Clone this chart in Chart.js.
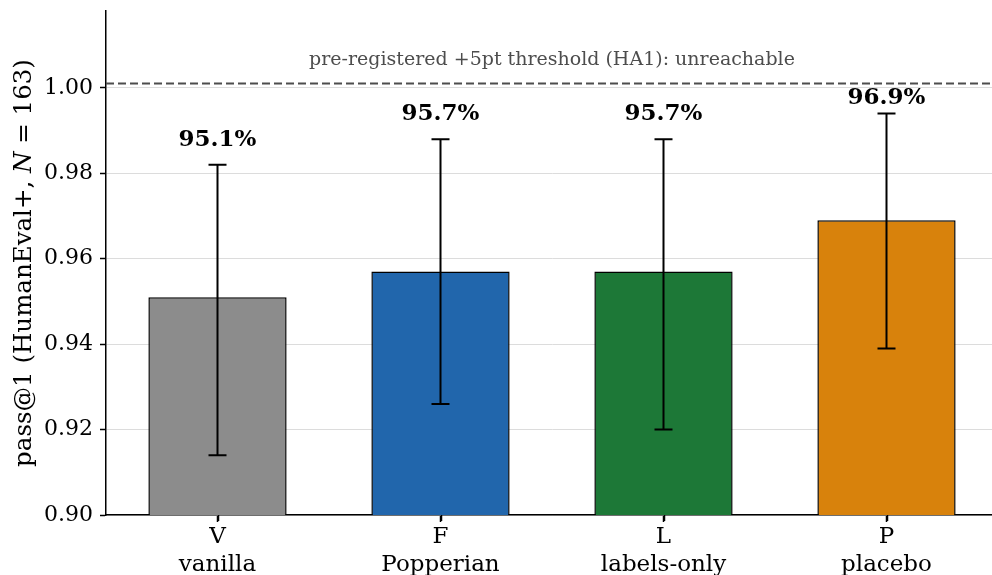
<!DOCTYPE html>
<html>
<head>
<meta charset="utf-8">
<script src="https://cdn.jsdelivr.net/npm/chart.js@4.4.1/dist/chart.umd.min.js"></script>
<style>
  html, body { margin: 0; padding: 0; background: #fff; overflow: hidden; }
  #wrap { position: absolute; left: 0; top: 0; width: 1010px; height: 600px; }
</style>
</head>
<body>
<div id="wrap"><canvas id="c" width="1010" height="600"></canvas></div>
<script>
// ---- data ----
const codes = ['V', 'F', 'L', 'P'];
const names = ['vanilla', 'Popperian', 'labels-only', 'placebo'];
const pass1 = [0.951, 0.957, 0.957, 0.969];
const ciLow = [0.914, 0.926, 0.920, 0.939];
const ciHigh = [0.982, 0.988, 0.988, 0.994];
const barColors = ['#8c8c8c', '#2166ac', '#1d7837', '#d8820c'];
const threshold = 1.001;
const thresholdText = 'pre-registered +5pt threshold (HA1): unreachable';
const yTicks = [0.90, 0.92, 0.94, 0.96, 0.98, 1.00];

const FONT = "'DejaVu Serif', serif";

const overlay = {
  id: 'overlay',
  afterDatasetsDraw(chart) {
    const ctx = chart.ctx;
    const ys = chart.scales.y;
    const meta = chart.getDatasetMeta(0);
    const area = chart.chartArea;
    ctx.save();
    // x tick marks at category centres
    ctx.strokeStyle = '#000';
    ctx.lineWidth = 1.5;
    meta.data.forEach(bar => {
      const x = Math.round(bar.x) + 0.5;
      ctx.beginPath();
      ctx.moveTo(x, area.bottom); ctx.lineTo(x, area.bottom + 6);
      ctx.stroke();
    });
    // error bars
    ctx.lineWidth = 2;
    meta.data.forEach((bar, i) => {
      const x = bar.x;
      const yl = ys.getPixelForValue(ciLow[i]);
      const yh = ys.getPixelForValue(ciHigh[i]);
      ctx.beginPath();
      ctx.moveTo(x, yl); ctx.lineTo(x, yh);
      ctx.moveTo(x - 9, yl); ctx.lineTo(x + 9, yl);
      ctx.moveTo(x - 9, yh); ctx.lineTo(x + 9, yh);
      ctx.stroke();
    });
    // value labels
    ctx.fillStyle = '#000';
    ctx.font = "bold 23px " + FONT;
    ctx.textAlign = 'center';
    ctx.textBaseline = 'alphabetic';
    meta.data.forEach((bar, i) => {
      const v = Math.min(ciHigh[i] + 0.0045, 0.9962);
      ctx.fillText((pass1[i] * 100).toFixed(1) + '%', bar.x, ys.getPixelForValue(v));
    });
    // threshold dashed line
    const ty = ys.getPixelForValue(threshold);
    ctx.strokeStyle = '#4d4d4d';
    ctx.lineWidth = 2;
    ctx.setLineDash([8, 4]);
    ctx.beginPath();
    ctx.moveTo(area.left, ty); ctx.lineTo(area.right, ty);
    ctx.stroke();
    ctx.setLineDash([]);
    // threshold annotation
    ctx.fillStyle = '#4d4d4d';
    ctx.font = "19px " + FONT;
    ctx.fillText(thresholdText, (area.left + area.right) / 2, 65);
    // y-axis title with italic N
    const cy = (area.top + area.bottom) / 2;
    const parts = [
      { t: 'pass@1 (HumanEval+, ', f: "24.5px " + FONT },
      { t: 'N', f: "italic 24.5px " + FONT },
      { t: ' = 163)', f: "24.5px " + FONT }
    ];
    let total = 0;
    parts.forEach(p => { ctx.font = p.f; p.w = ctx.measureText(p.t).width; total += p.w; });
    ctx.translate(31, cy);
    ctx.rotate(-Math.PI / 2);
    ctx.textAlign = 'left';
    ctx.fillStyle = '#000';
    let xx = -total / 2;
    parts.forEach(p => { ctx.font = p.f; ctx.fillText(p.t, xx, 0); xx += p.w; });
    ctx.restore();
  }
};

new Chart(document.getElementById('c'), {
  type: 'bar',
  data: {
    labels: codes.map((c, i) => [c, names[i]]),
    datasets: [{
      data: pass1,
      backgroundColor: barColors,
      borderColor: '#000',
      borderWidth: 1.5,
      borderSkipped: false,
      barPercentage: 0.62,
      categoryPercentage: 1.0
    }]
  },
  options: {
    responsive: false,
    animation: false,
    devicePixelRatio: 1,
    layout: { padding: { left: 0, right: 12, top: 11, bottom: 0 } },
    plugins: { legend: { display: false }, tooltip: { enabled: false }, title: { display: false } },
    scales: {
      x: {
        offset: true,
        grid: { offset: false, drawOnChartArea: false, drawTicks: true, tickLength: 7, tickColor: '#000', tickWidth: 1.5 },
        border: { display: true, color: '#000', width: 1.5 },
        ticks: { color: '#000', font: { family: FONT, size: 23, lineHeight: 1.22 }, padding: 1, maxRotation: 0, autoSkip: false },
        afterFit(s) { s.height = 600 - 515; s.paddingLeft = 0; s.paddingRight = 0; }
      },
      y: {
        min: 0.9,
        max: 1.018,
        afterBuildTicks(s) { s.ticks = yTicks.map(v => ({ value: v })); },
        grid: { color: '#dcdcdc', lineWidth: 1, drawTicks: true, tickLength: 6, tickColor: '#000', tickWidth: 1.5 },
        border: { display: true, color: '#000', width: 1.5 },
        ticks: { color: '#000', font: { family: FONT, size: 22 }, padding: 7, callback: v => Number(v).toFixed(2) },
        afterFit(s) { s.width = 106; s.paddingTop = 0; s.paddingBottom = 0; }
      }
    }
  },
  plugins: [overlay]
});
</script>
</body>
</html>
